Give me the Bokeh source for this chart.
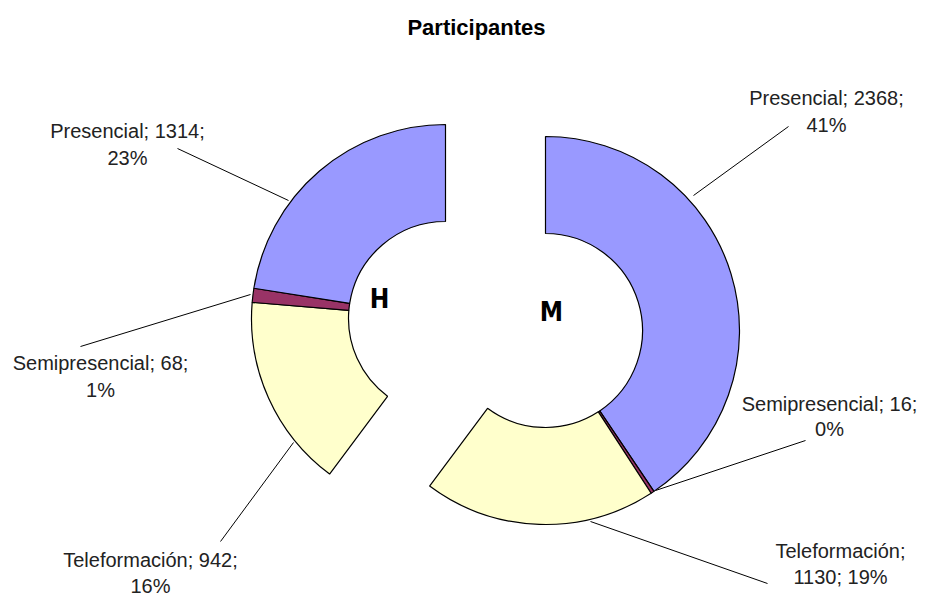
import math
from bokeh.plotting import figure
from bokeh.models import Range1d, ColumnDataSource
from bokeh.embed import file_html
from bokeh.resources import INLINE
from bokeh.core.properties import value

# ---------------- data ----------------
title = "Participantes"
categories = ["Presencial", "Semipresencial", "Teleformación"]
hombres = [1314, 68, 942]
mujeres = [2368, 16, 1130]
group_names = ["H", "M"]
colors = ["#9999FF", "#993366", "#FFFFCC"]

# ---------------- layout ----------------
W, H = 925, 596


def px(x):
    return x


def py(y):
    return H - y


centers = {"M": (545, 330), "H": (445, 318)}
R_OUT, R_IN = 194, 97
LABEL_FONT = value("Liberation Sans")
LABEL_SIZE = "20px"

# label layout: (center x, y line1, y line2, break after category)
label_layout = {
    ("H", 0): (127, 130, 157, False),
    ("H", 1): (100, 362, 389, False),
    ("H", 2): (150, 559, 585, False),
    ("M", 0): (826, 97, 124, False),
    ("M", 1): (829, 403, 428, False),
    ("M", 2): (840, 550, 576, True),
}
leader_layout = {
    ("H", 0): ((177, 148), (288, 200)),
    ("H", 1): ((80, 346), (250, 294)),
    ("H", 2): ((220, 541), (293, 442)),
    ("M", 0): ((788, 126), (693, 195)),
    ("M", 1): ((805, 440), (655, 490)),
    ("M", 2): ((590, 521), (767, 583)),
}
group_text_pos = {"H": (379, 298), "M": (551, 311)}

# ---------------- figure ----------------
p = figure(width=W, height=H, output_backend="svg", toolbar_location=None,
           x_range=Range1d(0, W), y_range=Range1d(0, H), min_border=0)
p.axis.visible = False
p.grid.visible = False
p.outline_line_color = None
p.background_fill_color = "white"
p.border_fill_color = "white"

total = sum(hombres) + sum(mujeres)
values_by_group = {"H": hombres, "M": mujeres}

# ring order clockwise from 12 o'clock: M in category order, then H reversed
ring = [("M", i) for i in range(len(categories))] + \
       [("H", i) for i in reversed(range(len(categories)))]

xs, ys, starts, ends, cols = [], [], [], [], []
cum = 0.0
for g, i in ring:
    v = values_by_group[g][i]
    t0 = cum / total * 2 * math.pi
    cum += v
    t1 = cum / total * 2 * math.pi
    cx, cy = centers[g]
    xs.append(px(cx))
    ys.append(py(cy))
    # clockwise from top -> math angle (anticlockwise from +x)
    starts.append(math.pi / 2 - t1)
    ends.append(math.pi / 2 - t0)
    cols.append(colors[i])

src = ColumnDataSource(dict(x=xs, y=ys, start=starts, end=ends, color=cols))
p.annular_wedge(x="x", y="y", inner_radius=R_IN, outer_radius=R_OUT,
                start_angle="start", end_angle="end", fill_color="color",
                line_color="black", line_width=1.2, source=src)

# leader lines
x0s, y0s, x1s, y1s = [], [], [], []
for key, ((ax, ay), (bx, by)) in leader_layout.items():
    x0s.append(px(ax)); y0s.append(py(ay)); x1s.append(px(bx)); y1s.append(py(by))
p.segment(x0=x0s, y0=y0s, x1=x1s, y1=y1s, line_color="black", line_width=1)

# data labels
lx, ly, lt = [], [], []
for g in group_names:
    vals = values_by_group[g]
    for i, cat in enumerate(categories):
        v = vals[i]
        pct = round(v / total * 100)
        cx, y1, y2, brk = label_layout[(g, i)]
        if brk:
            line1 = f"{cat};"
            line2 = f"{v}; {pct}%"
        else:
            line1 = f"{cat}; {v};"
            line2 = f"{pct}%"
        lx += [px(cx), px(cx)]
        ly += [py(y1), py(y2)]
        lt += [line1, line2]
p.text(x=lx, y=ly, text=lt, text_align="center", text_baseline="middle",
       text_font=LABEL_FONT, text_font_size=LABEL_SIZE, text_color="#222222")

# group letters
gx = [px(group_text_pos[g][0]) for g in group_names]
gy = [py(group_text_pos[g][1]) for g in group_names]
p.text(x=gx, y=gy, text=group_names, text_align="center", text_baseline="middle",
       text_font=value("DejaVu Sans Condensed"), text_font_style="bold",
       text_font_size="26px", text_color="black")

# title
p.text(x=[px(476)], y=[py(27)], text=[title], text_align="center",
       text_baseline="middle", text_font=value("Liberation Sans"),
       text_font_style="bold", text_font_size="22px", text_color="black")

open("out.html", "w").write(file_html(p, INLINE))
